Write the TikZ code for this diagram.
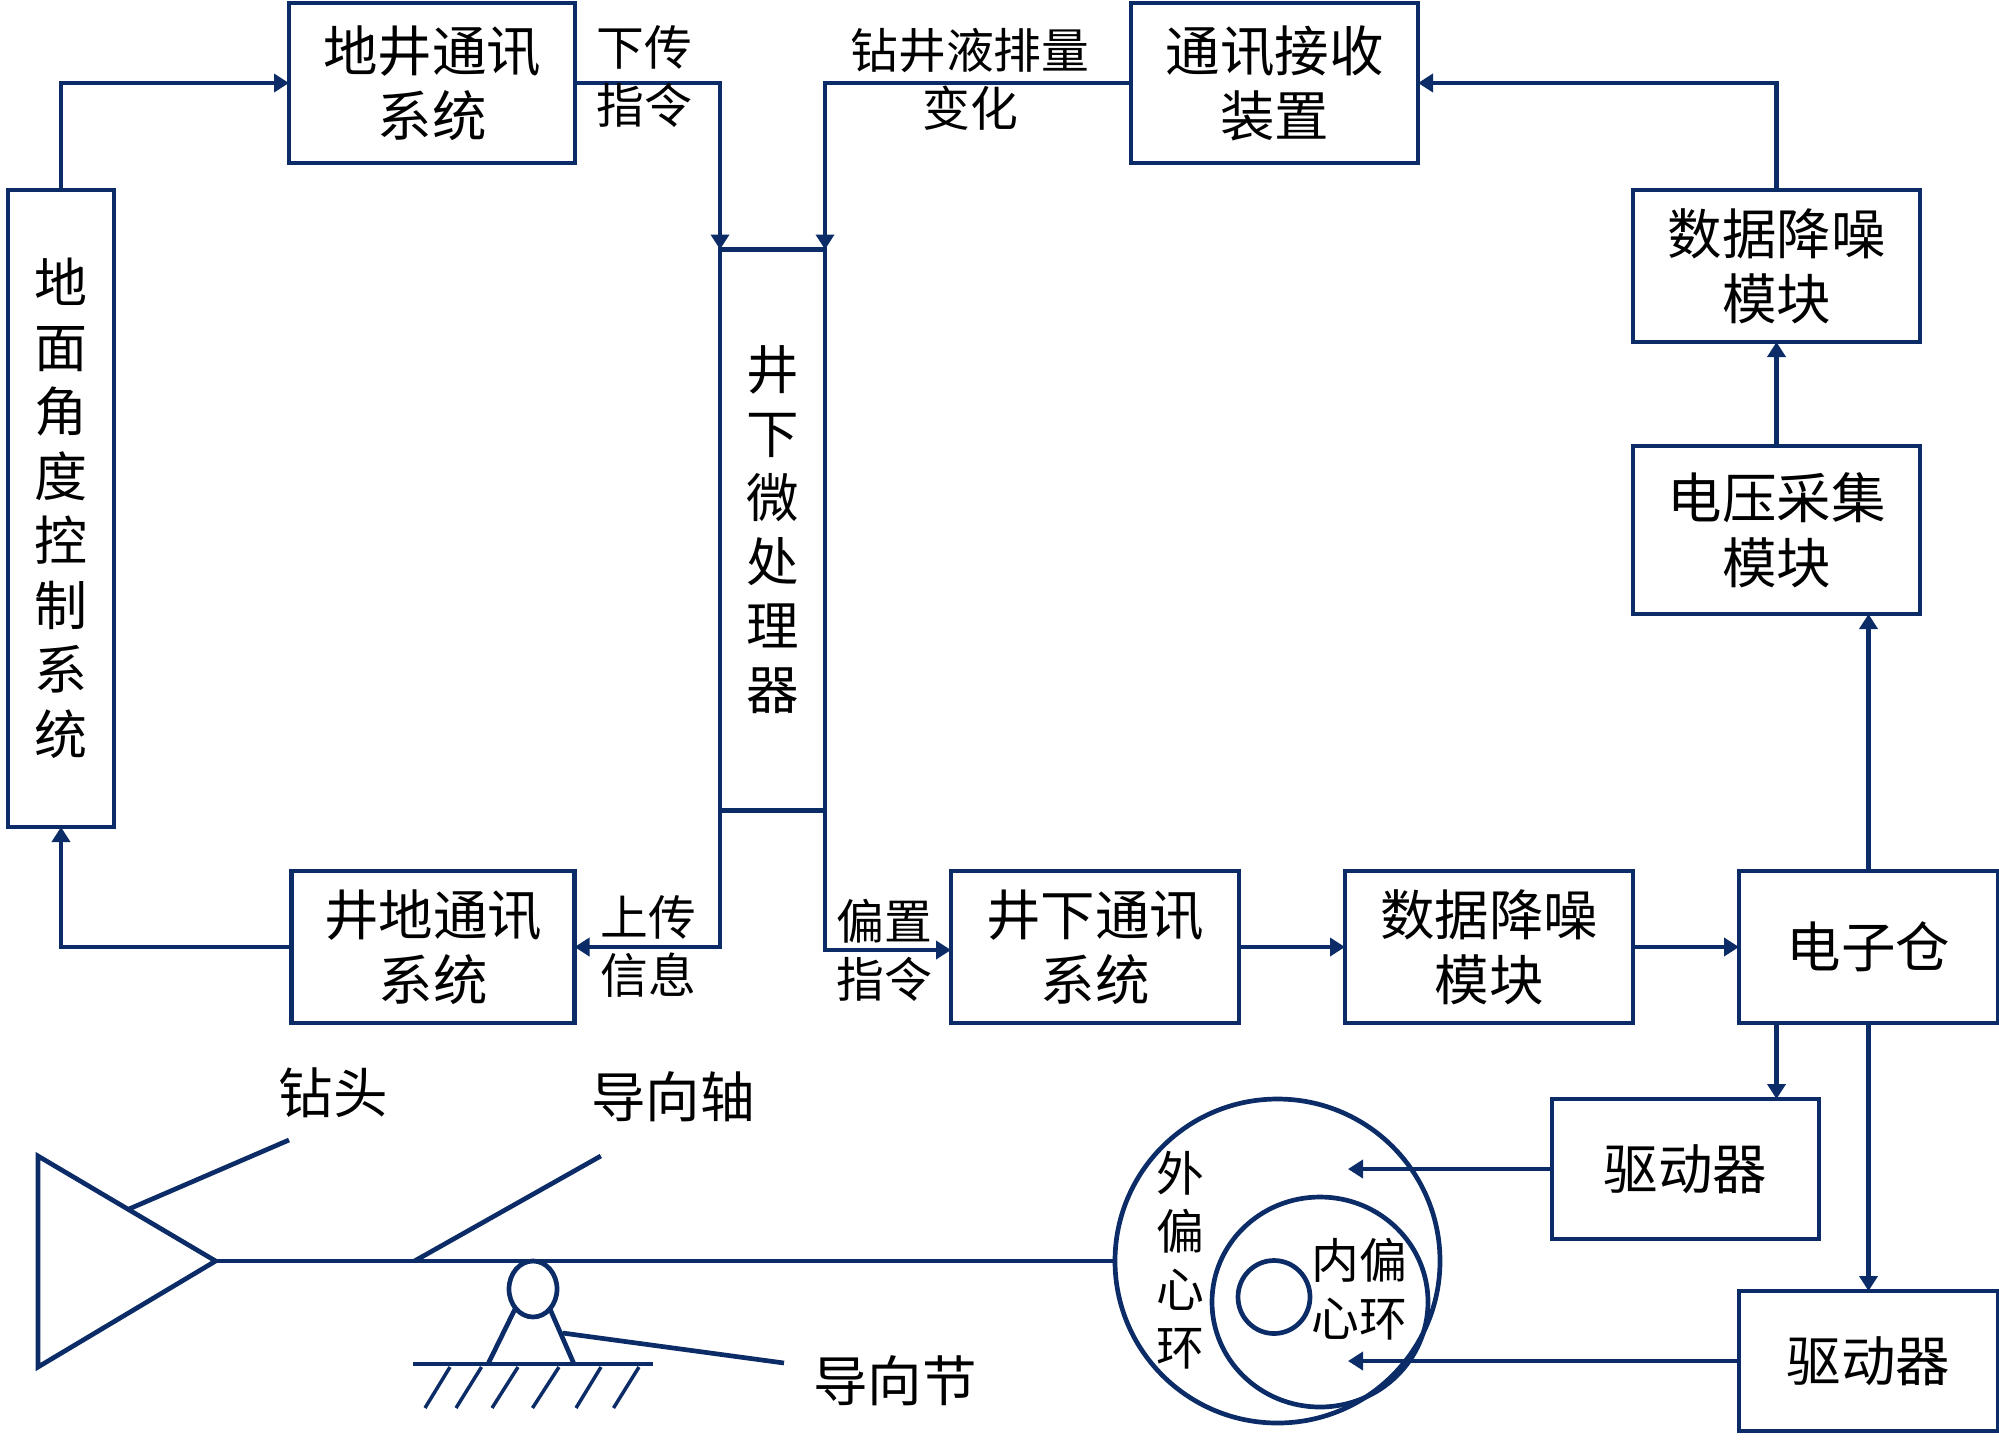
\documentclass[tikz,border=0pt]{standalone}
\usepackage{fontspec}
\setmainfont{Noto Sans CJK SC}
\usetikzlibrary{arrows.meta,calc,shapes.geometric}
\definecolor{navy}{HTML}{0C2C68}
\tikzset{
  line/.style={draw=navy,line width=4.7pt},
  arr/.style={line,-{Triangle[length=15pt,width=18pt]}},
  box/.style={line,inner sep=0pt,outer sep=0pt,align=center,font=\fontsize{54.5}{65}\selectfont,text=black},
  lab/.style={inner sep=0pt,outer sep=0pt,align=center,font=\fontsize{47.8}{58}\selectfont,text=black},
  biglab/.style={inner sep=0pt,outer sep=0pt,align=center,font=\fontsize{54.5}{65}\selectfont,text=black},
  ring/.style={line,ellipse,inner sep=0pt,outer sep=0pt},
}
\begin{document}
\begin{tikzpicture}[x=1pt,y=-1pt]
\useasboundingbox (0,0) rectangle (1999,1444);
% boxes
\node[box,minimum width=286pt,minimum height=160pt] (dijing) at (432,83) {地井通讯\\系统};
\node[box,minimum width=287pt,minimum height=160pt] (recv) at (1274.5,83) {通讯接收\\装置};
\node[box,minimum width=106pt,minimum height=637pt,font=\fontsize{53}{64.5}\selectfont] (ground) at (61,508.5) {地\\面\\角\\度\\控\\制\\系\\统};
\node[box,minimum width=105pt,minimum height=561pt,font=\fontsize{52.5}{64}\selectfont] (proc) at (772.5,530) {井\\下\\微\\处\\理\\器};
\node[box,minimum width=283pt,minimum height=152pt] (jingdi) at (433,947) {井地通讯\\系统};
\node[box,minimum width=288pt,minimum height=152pt] (jingxia) at (1095,947) {井下通讯\\系统};
\node[box,minimum width=288pt,minimum height=152pt] (noiseb) at (1489,947) {数据降噪\\模块};
\node[box,minimum width=259pt,minimum height=152pt] (bay) at (1868.5,947) {电子仓};
\node[box,minimum width=287pt,minimum height=152pt] (noiset) at (1776.5,266) {数据降噪\\模块};
\node[box,minimum width=287pt,minimum height=168pt] (volt) at (1776.5,530) {电压采集\\模块};
\node[box,minimum width=267pt,minimum height=140pt] (drvi) at (1685.5,1169) {驱动器};
\node[box,minimum width=259pt,minimum height=140pt] (drvo) at (1868.5,1361) {驱动器};
% connectors
\draw[arr] (ground.north) |- (dijing.west);
\draw[arr] (dijing.east) -| (proc.north west);
\draw[arr] (recv.west) -| (proc.north east);
\draw[arr] (noiset.north) |- (recv.east);
\draw[arr] (volt.north) -- (noiset.south);
\draw[arr] (bay.north) -- (bay.north |- volt.south);
\draw[arr] (jingdi.west) -| (ground.south);
\draw[arr] (proc.south west) |- (jingdi.east);
\draw[arr] (proc.south east) |- ($(jingxia.west)+(0,3)$);
\draw[arr] (jingxia.east) -- (noiseb.west);
\draw[arr] (noiseb.east) -- (bay.west);
\draw[arr] (volt.south |- bay.south) -- (volt.south |- drvi.north);
\draw[arr] (bay.south) -- (drvo.north);
% connector labels
\node[lab] (l1) at (644,77) {下传\\指令};
\node[lab] (l2) at (970,79) {钻井液排量\\变化};
\node[lab] (l3) at (648,946) {上传\\信息};
\node[lab] (l4) at (884,950) {偏置\\指令};
% rings
\node[ring,minimum width=325pt,minimum height=324pt] (outer) at (1277.5,1261) {};
\node[ring,minimum width=216pt,minimum height=210pt] (inner) at (1320,1302) {};
\node[ring,minimum width=72pt,minimum height=73pt] (core) at (1274,1297) {};
\node[lab] (l5) at (1180,1260) {外\\偏\\心\\环};
\node[lab] (l6) at (1359,1289) {内偏\\心环};
\coordinate (ptA) at (1348,1169);
\coordinate (ptB) at (1348,1361);
\draw[arr] (drvi.west) -- (ptA);
\draw[arr] (drvo.west) -- (ptB);
% drill bit and shaft
\coordinate (t1) at (38,1156);
\coordinate (t2) at (215.6,1261);
\coordinate (t3) at (38,1367);
\draw[line,line join=miter] (t1) -- (t2) -- (t3) -- cycle;
\draw[line] (t2) -- (outer.west);
\coordinate (bitA) at (129,1209);
\coordinate (bitB) at (289,1140);
\draw[line] (bitA) -- (bitB);
\coordinate (axA) at (414.5,1261);
\coordinate (axB) at (600.8,1156);
\draw[line] (axA) -- (axB);
\node[biglab] (l7) at (333,1093) {钻头};
\node[biglab] (l8) at (673,1097) {导向轴};
\node[biglab] (l9) at (895,1381) {导向节};
% joint
\node[ring,minimum width=48pt,minimum height=56pt] (joint) at (533,1289) {};
\coordinate (gA) at (413,1364);
\coordinate (gB) at (653,1364);
\draw[line] (gA) -- (gB);
\coordinate (sL) at (515,1309);
\coordinate (sLb) at (488,1364);
\coordinate (sR) at (550,1309);
\coordinate (sRb) at (574,1364);
\draw[line] (sL) -- (sLb);
\draw[line] (sR) -- (sRb);
\coordinate (nA) at (562.5,1333);
\coordinate (nB) at (784,1363);
\draw[line] (nA) -- (nB);
\foreach \tx/\bx in {450/425,481.5/456,518/492,559/532.5,601/576,639/613.5}
  \draw[line,line width=3.5pt] (\tx,1367) -- (\bx,1408);
\end{tikzpicture}
\end{document}
